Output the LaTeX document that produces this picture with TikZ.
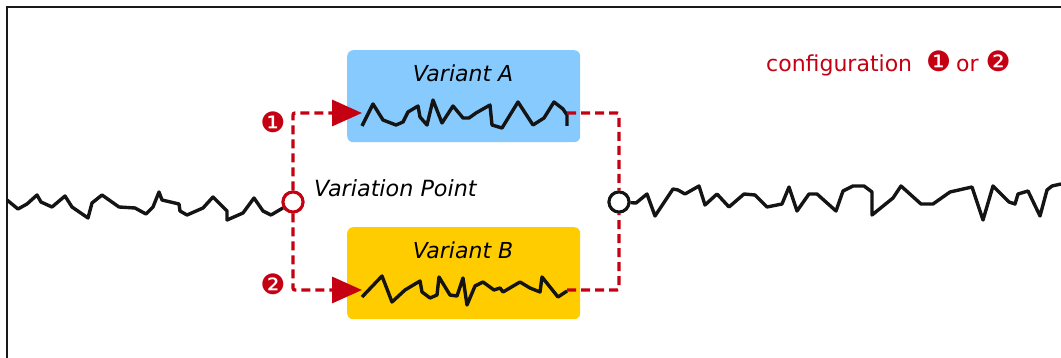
\documentclass[tikz,border=0pt]{standalone}
\usepackage{fontspec}
\setmainfont{DejaVu Sans}
\usetikzlibrary{arrows.meta}
\definecolor{cfgred}{RGB}{196,0,18}
\definecolor{varblue}{RGB}{135,203,254}
\definecolor{vargold}{RGB}{255,204,0}
\tikzset{
  frameline/.style={line width=1.8pt, black!90},
  varbox/.style={rounded corners=6pt, minimum width=233pt, minimum height=92pt, inner sep=0pt, draw=none},
  wire/.style={line width=3.4pt, black!92, line join=round},
  choice/.style={cfgred, line width=3.3pt, dash pattern=on 9pt off 5pt, rounded corners=2pt},
  pick/.style={choice, -{Triangle[length=30pt,width=26pt]}},
  vpoint/.style={circle, line width=3pt, fill=white, minimum size=20pt, inner sep=0pt},
  lbl/.style={font=\fontsize{22}{24}\selectfont\itshape, inner sep=0pt},
  choicemark/.style={font=\fontsize{28}{30}\selectfont, text=cfgred, inner sep=0pt}
}
\begin{document}
\begin{tikzpicture}[x=1pt, y=-1pt]
\useasboundingbox (0,0) rectangle (1061,358);
% outer frame (open to the right and bottom)
\draw[frameline] (7,358) -- (7,7) -- (1061,7);

% variant boxes
\node[varbox, fill=varblue, anchor=north west] (boxA) at (347,50) {};
\node[varbox, fill=vargold, anchor=north west] (boxB) at (347,227) {};
\node[lbl, anchor=base] (labA) at (463,81.5) {Variant A};
\node[lbl, anchor=base] (labB) at (463,259) {Variant B};

% variation points
\node[vpoint, draw=cfgred] (vpL) at (293,202) {};
\node[vpoint, draw=black!92] (vpR) at (619,202) {};
\node[lbl, anchor=base west, font=\fontsize{22.3}{24}\selectfont\itshape] (vpText) at (314,197) {Variation Point};

% ends of the variant wires
\coordinate (inA) at (362,113);
\coordinate (outA) at (567,113);
\coordinate (inB) at (362,290);
\coordinate (outB) at (567,290);

% main wire, left part
\draw[wire] (7,200) -- (18,209) -- (27,204) -- (37,195) -- (41,202) -- (52,207) -- (65,196) -- (72,207) -- (88,218) -- (92,203) -- (102,195) -- (119,207) -- (135,208) -- (146,214) -- (153,207) -- (159,192) -- (162,200) -- (179,204) -- (180,211) -- (187,215) -- (203,208) -- (213,197) -- (227,211) -- (227,220) -- (243,213) -- (254,198) -- (263,211) -- (271,215) -- (vpL);

% main wire, right part
\draw[wire] (vpR) -- (636,203) -- (647,194) -- (655,216) -- (673,189) -- (678,190) -- (685,194) -- (699,186) -- (705,205) -- (717,194) -- (729,207) -- (744,194) -- (755,195) -- (767,207) -- (782,204) -- (789,187) -- (797,211) -- (809,194) -- (817,194) -- (836,211) -- (843,191) -- (853,186) -- (864,186) -- (872,192) -- (872,215) -- (893,198) -- (901,186) -- (921,204) -- (933,204) -- (950,192) -- (972,187) -- (983,220) -- (993,186) -- (1009,202) -- (1015,204) -- (1018,194) -- (1028,191) -- (1040,216) -- (1047,190) -- (1052,186) -- (1061,184);

% variant A wire
\draw[wire] (362,126) -- (373,104) -- (383,120) -- (396,125) -- (403,122) -- (408,112) -- (418,106) -- (420,117) -- (427,125) -- (433,100) -- (442,123) -- (453,106) -- (463,118) -- (469,118) -- (476,113) -- (490,105) -- (492,125) -- (502,128) -- (518,102) -- (533,125) -- (544,118) -- (554,102) -- (563,109) -- (567,115) -- (567,126);

% variant B wire
\draw[wire] (362,297) -- (382,276) -- (392,302) -- (405,290) -- (420,281) -- (422,292) -- (430,298) -- (437,295) -- (439,277) -- (450,295) -- (457,296) -- (463,278) -- (467,305) -- (475,286) -- (483,282) -- (494,290) -- (500,288) -- (503,292) -- (520,282) -- (530,288) -- (540,292) -- (542,277) -- (558,297) -- (567,291);

% configuration choices
\draw[pick] (vpL.north) |- (inA);
\draw[pick] (vpL.south) |- (inB);
\draw[choice] (outA) -| (vpR.north);
\draw[choice] (outB) -| (vpR.south);
\node[vpoint, draw=cfgred] at (vpL) {};
\node[vpoint, draw=black!92] at (vpR) {};

% choice markers
\node[choicemark] (m1) at (273,122) {❶};
\node[choicemark] (m2) at (273,284) {❷};
\node[choicemark, anchor=base west, font=\fontsize{22}{24}\selectfont] (cfg) at (766,71.5) {configuration\ \ {\fontsize{28}{30}\selectfont❶}\hspace{-2pt} or {\fontsize{28}{30}\selectfont❷}};
\end{tikzpicture}
\end{document}
